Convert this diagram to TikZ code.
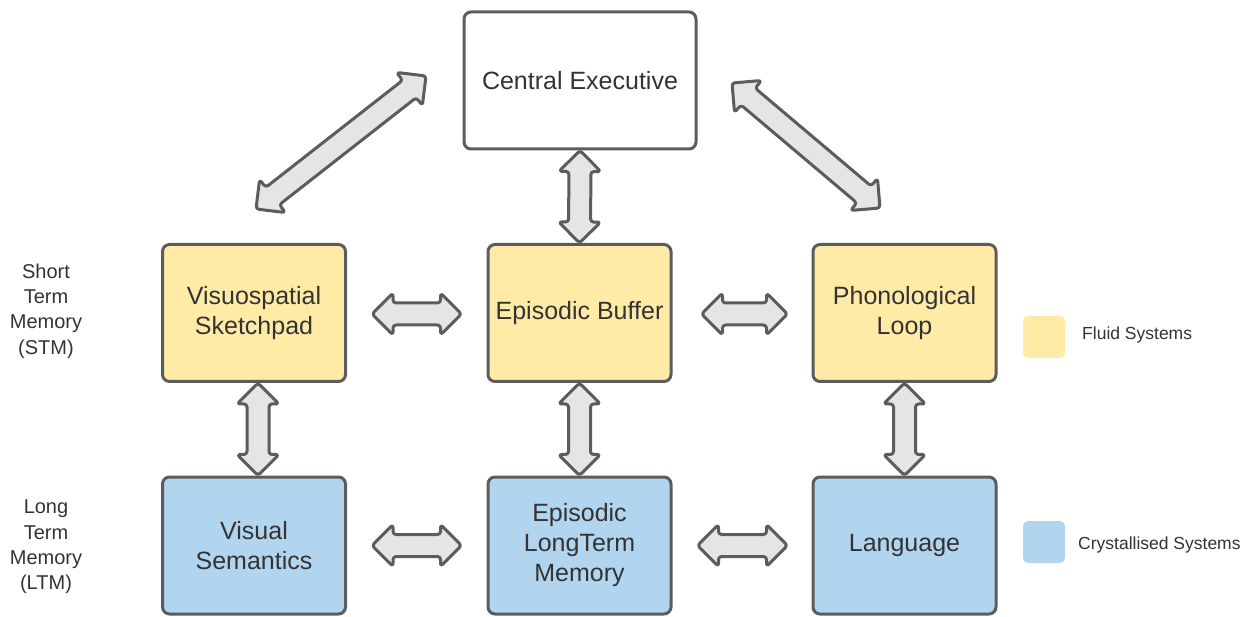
\documentclass[tikz,border=0pt]{standalone}
\usepackage{fontspec}
\setmainfont{Liberation Sans}
\usetikzlibrary{calc}
\definecolor{fluid}{HTML}{FFEAA6}
\definecolor{cryst}{HTML}{B2D5EF}
\definecolor{edge}{HTML}{5C5C5C}
\definecolor{arrfill}{HTML}{E5E5E5}
\definecolor{txt}{HTML}{333333}
% double-headed block arrow between two points
\def\ahl{21pt}
\def\ahw{21pt}
\def\asw{11pt}
\newcommand\biarrow[2]{%
  \filldraw[blockarrow] (#1)
    -- ($(#1)!\ahl!(#2)!\ahw!90:(#2)$)
    -- ($(#1)!\ahl!(#2)!\asw!90:(#2)$)
    -- ($(#2)!\ahl!(#1)!\asw!-90:(#1)$)
    -- ($(#2)!\ahl!(#1)!\ahw!-90:(#1)$)
    -- (#2)
    -- ($(#2)!\ahl!(#1)!\ahw!90:(#1)$)
    -- ($(#2)!\ahl!(#1)!\asw!90:(#1)$)
    -- ($(#1)!\ahl!(#2)!\asw!-90:(#2)$)
    -- ($(#1)!\ahl!(#2)!\ahw!-90:(#2)$)
    -- cycle;}
\begin{document}
\begin{tikzpicture}[x=1pt,y=-1pt,
  box/.style={draw=edge, line width=3pt, rounded corners=7pt,
    minimum width=183pt, minimum height=137pt, inner sep=0pt,
    align=center, text=txt, font=\fontsize{25}{30}\selectfont},
  stm/.style={box, fill=fluid},
  ltm/.style={box, fill=cryst},
  blockarrow/.style={draw=edge, fill=arrfill, line width=3pt,
    line join=round, rounded corners=3pt},
  side/.style={align=center, text=txt, font=\fontsize{20}{25.3}\selectfont},
  key/.style={rounded corners=5pt, minimum size=42pt, inner sep=0pt},
  keytext/.style={anchor=west, text=txt, font=\fontsize{17.5}{21}\selectfont, inner sep=0pt}]
\useasboundingbox (0,0) rectangle (1256,617);

% components
\node[box, minimum width=232pt] (ce) at (580,80.5) {Central Executive};
\node[stm] (vs) at (254,313) {Visuospatial\\Sketchpad};
\node[stm] (eb) at (579.5,313) {Episodic Buffer};
\node[stm] (pl) at (904.5,313) {Phonological\\Loop};
\node[ltm] (vsem) at (254,545.5) {Visual\\Semantics};
\node[ltm] (eltm) at (579.5,545.5) {Episodic\\LongTerm\\Memory};
\node[ltm] (lang) at (904.5,545.5) {Language};

% row labels
\node[side] (stmlab) at (46,311) {Short\\Term\\Memory\\(STM)};
\node[side] (ltmlab) at (46,547) {Long\\Term\\Memory\\(LTM)};

% legend
\node[key, fill=fluid] (kf) at (1044,337) {};
\node[key, fill=cryst] (kc) at (1044,542) {};
\node[keytext] (kft) at (1082,335) {Fluid Systems};
\node[keytext] (kct) at (1078,545) {Crystallised Systems};

% arrow end points
\coordinate (d1a) at (256,209);
\coordinate (d1b) at (426,76);
\coordinate (d2a) at (732,83);
\coordinate (d2b) at (880,208);
\coordinate (vsS) at ($(vs.south)+(4,0)$);
\coordinate (vsemN) at ($(vsem.north)+(4,0)$);
\coordinate (h1a) at ($(vs.east)+(25,1)$);
\coordinate (h1b) at ($(eb.west)+(-25,1)$);
\coordinate (h2a) at ($(eb.east)+(29,1)$);
\coordinate (h2b) at ($(pl.west)+(-24,1)$);
\coordinate (h3a) at ($(vsem.east)+(25,0)$);
\coordinate (h3b) at ($(eltm.west)+(-25,0)$);
\coordinate (h4a) at ($(eltm.east)+(25,0)$);
\coordinate (h4b) at ($(lang.west)+(-24,0)$);

% connections
\biarrow{d1a}{d1b}
\biarrow{d2a}{d2b}
\biarrow{ce.south}{eb.north}
\biarrow{h1a}{h1b}
\biarrow{h2a}{h2b}
\biarrow{h3a}{h3b}
\biarrow{h4a}{h4b}
\biarrow{vsS}{vsemN}
\biarrow{eb.south}{eltm.north}
\biarrow{pl.south}{lang.north}
\end{tikzpicture}
\end{document}
